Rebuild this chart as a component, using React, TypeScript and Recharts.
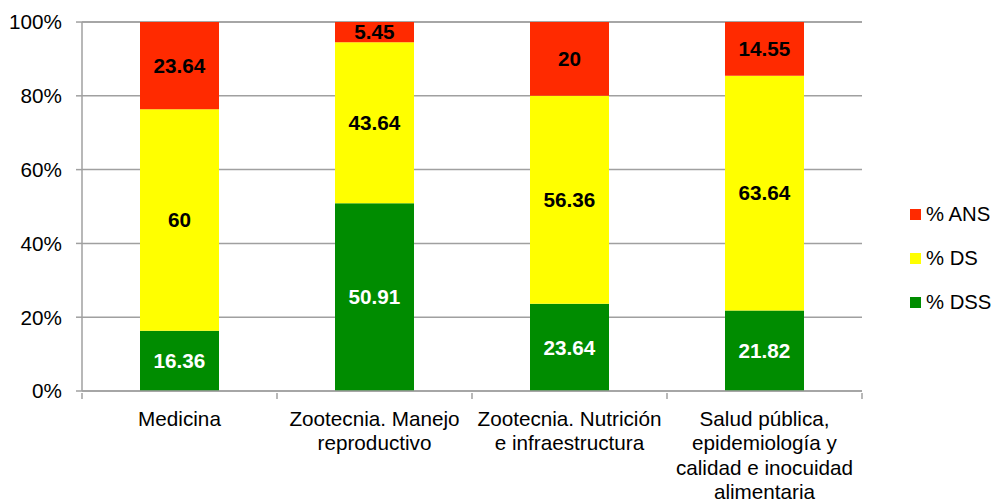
import React from "react";
import { BarChart, Bar, XAxis, YAxis, CartesianGrid, Legend, LabelList } from "recharts";

const categories = [
  "Medicina",
  "Zootecnia. Manejo\nreproductivo",
  "Zootecnia. Nutrición\ne infraestructura",
  "Salud pública,\nepidemiología y\ncalidad e inocuidad\nalimentaria",
];
const dss = [16.36, 50.91, 23.64, 21.82];
const ds = [60, 43.64, 56.36, 63.64];
const ans = [23.64, 5.45, 20, 14.55];
const yTicks = [0, 20, 40, 60, 80, 100];
const legendOrder = ["% ANS", "% DS", "% DSS"];

const data = categories.map((c, i) => ({ name: c, dss: dss[i], ds: ds[i], ans: ans[i] }));

const FONT = "'Liberation Sans', Arial, Helvetica, sans-serif";
const FS = 20.7;
const RED = "#FF2A00";
const YELLOW = "#FFFF00";
const GREEN = "#008C00";
const GRID = "#A0A0A0";

const XTick = (props: any) => {
  const { x, y, payload, index, visibleTicksCount } = props;
  const half = payload && payload.offset ? payload.offset : 97.5;
  const lines = String(payload.value).split("\n");
  const axisY = y - 8;
  return (
    <g>
      <line x1={x - half} y1={axisY} x2={x - half} y2={axisY + 6} stroke={GRID} strokeWidth={1.5} />
      {index === (visibleTicksCount ? visibleTicksCount - 1 : 3) && (
        <line x1={x + half} y1={axisY} x2={x + half} y2={axisY + 6} stroke={GRID} strokeWidth={1.5} />
      )}
      <text x={x} y={axisY + 33} textAnchor="middle" fill="#000" fontSize={FS} fontFamily={FONT}>
        {lines.map((l, i) => (
          <tspan key={i} x={x} dy={i === 0 ? 0 : 24.3}>
            {l}
          </tspan>
        ))}
      </text>
    </g>
  );
};

const LegendContent = (props: any) => {
  const items = [...(props.payload || [])].sort(
    (a: any, b: any) => legendOrder.indexOf(a.value) - legendOrder.indexOf(b.value)
  );
  return (
    <div style={{ fontFamily: FONT, fontSize: 20.3, color: "#000" }}>
      {items.map((it: any, i: number) => (
        <div key={i} style={{ display: "flex", alignItems: "center", height: 44, whiteSpace: "nowrap" }}>
          <span style={{ display: "inline-block", width: 11, height: 11, background: it.color, marginRight: 5 }} />
          <span>{it.value}</span>
        </div>
      ))}
    </div>
  );
};

export default function App() {
  return (
    <div style={{ position: "absolute", left: 0, top: 0, background: "#fff" }}>
      <BarChart width={997} height={502} data={data} margin={{ top: 22, right: 48, bottom: 0, left: 0 }}>
        <CartesianGrid vertical={false} stroke={GRID} strokeWidth={1.5} />
        <XAxis
          dataKey="name"
          height={111}
          interval={0}
          tick={<XTick />}
          tickLine={false}
          axisLine={{ stroke: GRID, strokeWidth: 1.5 }}
          tickSize={8}
        />
        <YAxis
          width={82}
          domain={[0, 100]}
          ticks={yTicks}
          tickFormatter={(v: number) => `${v}%`}
          tick={{ fill: "#000", fontSize: FS, fontFamily: FONT }}
          tickLine={{ stroke: GRID, strokeWidth: 1.5 }}
          tickSize={6}
          tickMargin={14}
          axisLine={{ stroke: GRID, strokeWidth: 1.5 }}
          interval={0}
        />
        <Legend
          layout="vertical"
          align="right"
          verticalAlign="middle"
          content={<LegendContent />}
          wrapperStyle={{ width: 87, left: 910, right: "auto", top: 192 }}
        />
        <Bar dataKey="dss" name="% DSS" stackId="a" fill={GREEN} barSize={79} isAnimationActive={false}>
          <LabelList dataKey="dss" position="center" fill="#fff" fontSize={FS} fontWeight="bold" fontFamily={FONT} />
        </Bar>
        <Bar dataKey="ds" name="% DS" stackId="a" fill={YELLOW} barSize={79} isAnimationActive={false}>
          <LabelList dataKey="ds" position="center" fill="#000" fontSize={FS} fontWeight="bold" fontFamily={FONT} />
        </Bar>
        <Bar dataKey="ans" name="% ANS" stackId="a" fill={RED} barSize={79} isAnimationActive={false}>
          <LabelList dataKey="ans" position="center" fill="#000" fontSize={FS} fontWeight="bold" fontFamily={FONT} />
        </Bar>
      </BarChart>
    </div>
  );
}
